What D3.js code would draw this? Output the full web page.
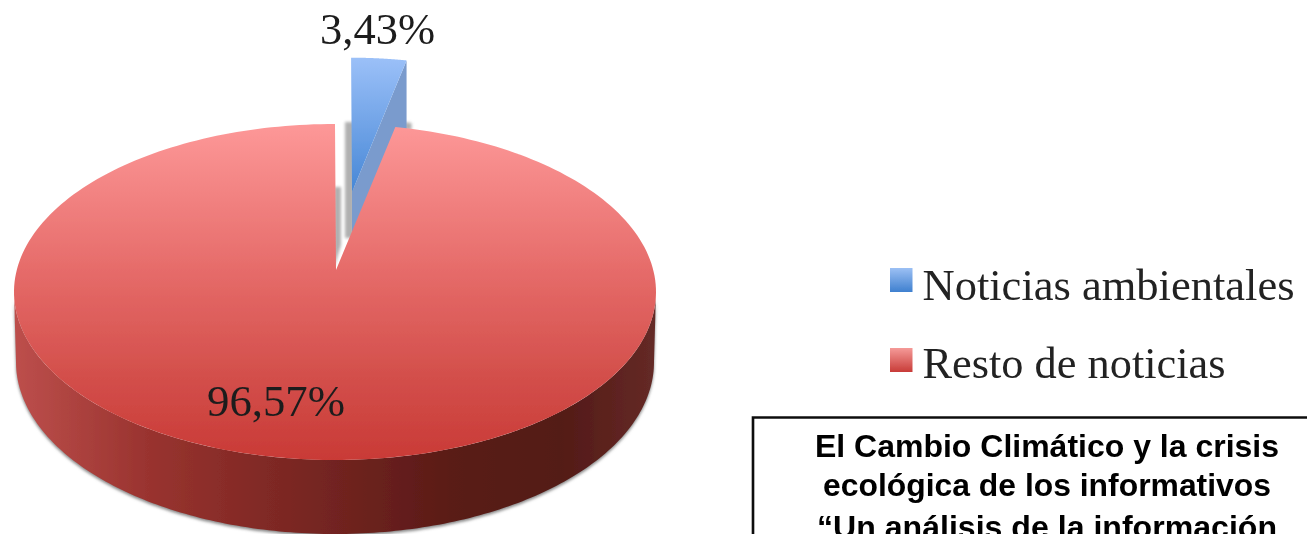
<!DOCTYPE html>
<html><head><meta charset="utf-8">
<style>html,body{margin:0;padding:0;background:#fff;overflow:hidden}svg{display:block}</style>
<script src="https://cdn.jsdelivr.net/npm/d3@7"></script></head>
<body><script>
const categories = ["Noticias ambientales", "Resto de noticias"];
const values = [3.43, 96.57];
const titleLines = ["El Cambio Climático y la crisis", "ecológica de los informativos", "“Un análisis de la información"];

const W = 1307, H = 534;
const svg = d3.select("body").append("svg").attr("width", W).attr("height", H);
const defs = svg.append("defs");

function grad(id, x1, y1, x2, y2, stops) {
  const g = defs.append("linearGradient").attr("id", id).attr("gradientUnits", "userSpaceOnUse")
    .attr("x1", x1).attr("y1", y1).attr("x2", x2).attr("y2", y2);
  stops.forEach(([o, c]) => g.append("stop").attr("offset", o).attr("stop-color", c));
}
grad("redTop", 0, 124, 0, 460, [[0, "#fd9898"], [.45, "#e56a68"], [.75, "#d34f4b"], [1, "#c93a36"]]);
grad("redWall", 14, 0, 656, 0, [[0, "#bd4f4c"], [.21, "#99332f"], [.37, "#832a26"], [.52, "#6f231f"], [.68, "#5a1a17"], [.85, "#531a17"], [1, "#652a26"]]);
grad("blueTop", 0, 58, 0, 192, [[0, "#9bc0f8"], [1, "#4687d6"]]);
grad("legBlue", 0, 268, 0, 292, [[0, "#9cc0f4"], [1, "#3f80cf"]]);
grad("legRed", 0, 348, 0, 372, [[0, "#f59a98"], [1, "#c83c38"]]);
defs.append("filter").attr("id", "soft").attr("x", "-5%").attr("y", "-5%").attr("width", "110%").attr("height", "110%")
  .append("feGaussianBlur").attr("stdDeviation", .65);
defs.append("filter").attr("id", "shadow").attr("x", "-50%").attr("y", "-10%").attr("width", "200%").attr("height", "120%")
  .append("feGaussianBlur").attr("stdDeviation", 1.6);

// Perspective pie: a circle on a tilted plane whose centre lands above the ellipse centre.
const cx = 335, cy = 292, rx = 321, ry = 168;
const v0 = (270 - cy) / ry;
function project(theta) {
  const x = Math.sin(theta), y = -Math.cos(theta), d = 1 + v0 * y;
  return [cx + rx * x * Math.sqrt(1 - v0 * v0) / d, cy + ry * (y + v0) / d];
}
const apex = [336, 270];
const slices = d3.pie().sort(null)(values);
const blue = slices[0], red = slices[1];
const line = d3.line();
const arcPts = (a0, a1, f = p => p) => d3.range(0, 241).map(i => f(project(a0 + (a1 - a0) * i / 240)));

// Exploded blue slice
const bApex = [352, 192], bScale = .92;
const bMap = p => [bApex[0] + bScale * (p[0] - apex[0]), bApex[1] + bScale * (p[1] - apex[1])];
const bArc = arcPts(blue.startAngle, blue.endAngle, bMap);
const bDepth = 70;
const bEnd = bArc[bArc.length - 1];

const chart = svg.append("g").attr("filter", "url(#soft)");

// soft grey shadows in the notch and around the wall
const shadows = chart.append("g").attr("fill", "#b0b0b0").attr("filter", "url(#shadow)");
shadows.append("path").attr("d", line([[345, 122], [354, 122], [354, 238], [345, 238]]));
shadows.append("path").attr("d", line([[bEnd[0] - 2, 122], [bEnd[0] + 5, 123], [bEnd[0] + 5, 130], [bEnd[0] - 2, 130]]));
shadows.append("path").attr("d", line([[334, 187], [341, 187], [341, 245], [334, 268]]));

// wall: lower rim ellipse joined to the visible half of the top rim
const wallDepthCy = 362, wallRy = 172, wallRx = 319;
const rimTop = d3.range(0, 181).map(i => {
  const t = Math.PI * i / 180;
  return [cx + rx * Math.cos(t), cy + ry * Math.sin(t)];
});
const rimBottom = d3.range(180, -1, -1).map(i => {
  const t = Math.PI * i / 180;
  return [cx + wallRx * Math.cos(t), wallDepthCy + wallRy * Math.sin(t)];
});
const wall = rimBottom.concat(rimTop);
chart.append("path").attr("d", line(wall) + "Z").attr("fill", "#888").attr("filter", "url(#shadow)")
  .attr("transform", "translate(0,2)");
chart.append("path").attr("d", line(wall) + "Z").attr("fill", "url(#redWall)");

// blue slice
chart.append("path")
  .attr("d", line([bEnd, bApex, [bApex[0], bApex[1] + bDepth], [bEnd[0], bEnd[1] + bDepth]]) + "Z")
  .attr("fill", "#7a9bcd");
chart.append("path").attr("d", line([bApex].concat(bArc)) + "Z").attr("fill", "url(#blueTop)");

// red slice top face
chart.append("path").attr("d", line([apex].concat(arcPts(red.startAngle, red.endAngle))) + "Z")
  .attr("fill", "url(#redTop)");

// data labels
const fmt = v => v.toFixed(2).replace(".", ",") + "%";
const serif = "'Liberation Serif','DejaVu Serif',serif";
const labels = svg.append("g").attr("filter", "url(#soft)").attr("font-family", serif).attr("fill", "#1d1d1d");
[[320, 44, 115], [207, 416, 138]].forEach(([x, y, len], i) => {
  labels.append("text").attr("x", x).attr("y", y).attr("font-size", 45)
    .attr("textLength", len).attr("lengthAdjust", "spacingAndGlyphs").text(fmt(values[i]));
});

// legend
const legend = svg.append("g").attr("filter", "url(#soft)");
const rowY = d3.scalePoint().domain(categories).range([300, 378]);
const legLen = [372, 303], legFill = ["url(#legBlue)", "url(#legRed)"];
categories.forEach((c, i) => {
  legend.append("rect").attr("x", 890).attr("y", rowY(c) - 32 + (i ? 2 : 0)).attr("width", 22.5).attr("height", 24).attr("fill", legFill[i]);
  legend.append("text").attr("x", 922.5).attr("y", rowY(c)).attr("font-family", serif).attr("font-size", 44)
    .attr("fill", "#222").attr("textLength", legLen[i]).attr("lengthAdjust", "spacingAndGlyphs").text(c);
});

// title box, running off the page edges
const box = svg.append("g").attr("filter", "url(#soft)");
box.append("path").attr("d", "M753,560V417.5H1320").attr("fill", "none").attr("stroke", "#111").attr("stroke-width", 2.6);
const tY = [457, 496, 538], tLen = [464, 448, 460];
titleLines.forEach((t, i) => {
  box.append("text").attr("x", 1047).attr("y", tY[i]).attr("text-anchor", "middle")
    .attr("font-family", "'Liberation Sans',Arial,sans-serif").attr("font-weight", "bold").attr("font-size", 30.5)
    .attr("fill", "#000").attr("textLength", tLen[i]).attr("lengthAdjust", "spacingAndGlyphs").text(t);
});
</script></body></html>
